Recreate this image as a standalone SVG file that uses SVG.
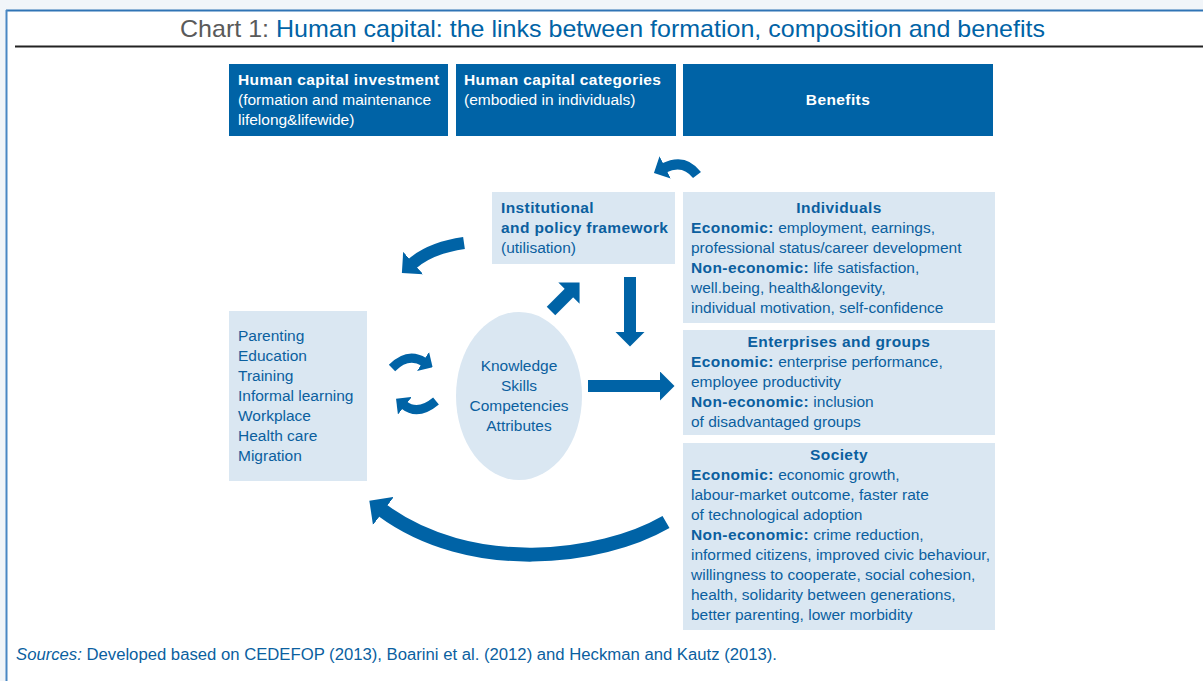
<svg xmlns="http://www.w3.org/2000/svg" width="1203" height="681" viewBox="0 0 1203 681">
<defs>
<style>
.t{font-family:"Liberation Sans",Arial,sans-serif;font-size:15.5px;fill:#0b5f9f}
.b{font-weight:bold;letter-spacing:0.4px}
.w{fill:#ffffff}
.hdr{fill:#0063a6}
.lt{fill:#dae7f2}
.arr{fill:none;stroke:#0063a6;stroke-linecap:butt}
</style>
<marker id="ah" viewBox="0 0 10 20" refX="1" refY="10" markerWidth="1.25" markerHeight="2.5" orient="auto" markerUnits="strokeWidth">
<path d="M0,0 L10,10 L0,20 z" fill="#0063a6"/>
</marker>
</defs>
<rect x="0" y="0" width="1203" height="681" fill="#f1f5f9"/>
<rect x="6" y="10" width="1197" height="671" fill="#ffffff"/>
<line x1="6" y1="10.5" x2="1203" y2="10.5" stroke="#2f74b5" stroke-width="2"/>
<line x1="6.5" y1="10" x2="6.5" y2="681" stroke="#4a88c4" stroke-width="2"/>
<line x1="15" y1="46.5" x2="1203" y2="46.5" stroke="#222" stroke-width="2"/>
<text x="180" y="37" textLength="865" lengthAdjust="spacingAndGlyphs" style="font-family:'Liberation Sans',Arial,sans-serif;font-size:24px"><tspan fill="#5a5a5a">Chart 1: </tspan><tspan fill="#0063a6">Human capital: the links between formation, composition and benefits</tspan></text>

<g id="hdr-investment">
<rect class="hdr" x="229" y="64" width="219" height="72"/>
<text class="t w b" x="238" y="85">Human capital investment</text>
<text class="t w" x="238" y="105">(formation and maintenance</text>
<text class="t w" x="238" y="125">lifelong&amp;lifewide)</text>
</g>
<g id="hdr-categories">
<rect class="hdr" x="456" y="64" width="220" height="72"/>
<text class="t w b" x="464" y="85">Human capital categories</text>
<text class="t w" x="464" y="105">(embodied in individuals)</text>
</g>
<g id="hdr-benefits">
<rect class="hdr" x="683" y="64" width="310" height="72"/>
<text class="t w b" x="838" y="105" text-anchor="middle">Benefits</text>
</g>

<g id="institutional">
<rect class="lt" x="492" y="192" width="183" height="72"/>
<text class="t b" x="501" y="213">Institutional</text>
<text class="t b" x="501" y="233">and policy framework</text>
<text class="t" x="501" y="253">(utilisation)</text>
</g>

<g id="investment-list">
<rect class="lt" x="229" y="311" width="138" height="170"/>
<text class="t" x="238" y="341">Parenting</text>
<text class="t" x="238" y="361">Education</text>
<text class="t" x="238" y="381">Training</text>
<text class="t" x="238" y="401">Informal learning</text>
<text class="t" x="238" y="421">Workplace</text>
<text class="t" x="238" y="441">Health care</text>
<text class="t" x="238" y="461">Migration</text>
</g>

<g id="categories">
<ellipse class="lt" cx="519" cy="396" rx="63" ry="84"/>
<text class="t" x="519" y="371" text-anchor="middle">Knowledge</text>
<text class="t" x="519" y="391" text-anchor="middle">Skills</text>
<text class="t" x="519" y="411" text-anchor="middle">Competencies</text>
<text class="t" x="519" y="431" text-anchor="middle">Attributes</text>
</g>

<g id="individuals">
<rect class="lt" x="683" y="192" width="312" height="131"/>
<text class="t b" x="839" y="213" text-anchor="middle">Individuals</text>
<text class="t" x="691" y="233"><tspan class="b">Economic:</tspan> employment, earnings,</text>
<text class="t" x="691" y="253">professional status/career development</text>
<text class="t" x="691" y="273"><tspan class="b">Non-economic:</tspan> life satisfaction,</text>
<text class="t" x="691" y="293">well.being, health&amp;longevity,</text>
<text class="t" x="691" y="313">individual motivation, self-confidence</text>
</g>

<g id="enterprises">
<rect class="lt" x="683" y="330" width="312" height="105"/>
<text class="t b" x="839" y="347" text-anchor="middle">Enterprises and groups</text>
<text class="t" x="691" y="367"><tspan class="b">Economic:</tspan> enterprise performance,</text>
<text class="t" x="691" y="387">employee productivity</text>
<text class="t" x="691" y="407"><tspan class="b">Non-economic:</tspan> inclusion</text>
<text class="t" x="691" y="427">of disadvantaged groups</text>
</g>

<g id="society">
<rect class="lt" x="683" y="443" width="312" height="187"/>
<text class="t b" x="839" y="460" text-anchor="middle">Society</text>
<text class="t" x="691" y="480"><tspan class="b">Economic:</tspan> economic growth,</text>
<text class="t" x="691" y="500">labour-market outcome, faster rate</text>
<text class="t" x="691" y="520">of technological adoption</text>
<text class="t" x="691" y="540"><tspan class="b">Non-economic:</tspan> crime reduction,</text>
<text class="t" x="691" y="560">informed citizens, improved civic behaviour,</text>
<text class="t" x="691" y="580">willingness to cooperate, social cohesion,</text>
<text class="t" x="691" y="600">health, solidarity between generations,</text>
<text class="t" x="691" y="620">better parenting, lower morbidity</text>
</g>

<g id="connectors">
<path class="arr" d="M630,277 V333" stroke-width="12" marker-end="url(#ah)"/>
<path class="arr" d="M588,386 H661" stroke-width="12" marker-end="url(#ah)"/>
<path class="arr" d="M551,311 L570,292" stroke-width="12" marker-end="url(#ah)"/>
<path class="arr" d="M697,175 Q684,158 664,168" stroke-width="10" marker-end="url(#ah)"/>
<path class="arr" d="M464,243 Q430,248 412,264" stroke-width="12" marker-end="url(#ah)"/>
<path class="arr" d="M392,368 Q408,352 424,362" stroke-width="9" marker-end="url(#ah)"/>
<path class="arr" d="M436,401 Q418,416 404,405" stroke-width="9" marker-end="url(#ah)"/>
<path class="arr" d="M666,522 C600,560 470,575 382,510" stroke-width="14" marker-end="url(#ah)"/>
</g>

<text class="t" x="16" y="660" textLength="761" lengthAdjust="spacingAndGlyphs" style="font-size:16px"><tspan font-style="italic">Sources:</tspan> Developed based on CEDEFOP (2013), Boarini et al. (2012) and Heckman and Kautz (2013).</text>
</svg>
